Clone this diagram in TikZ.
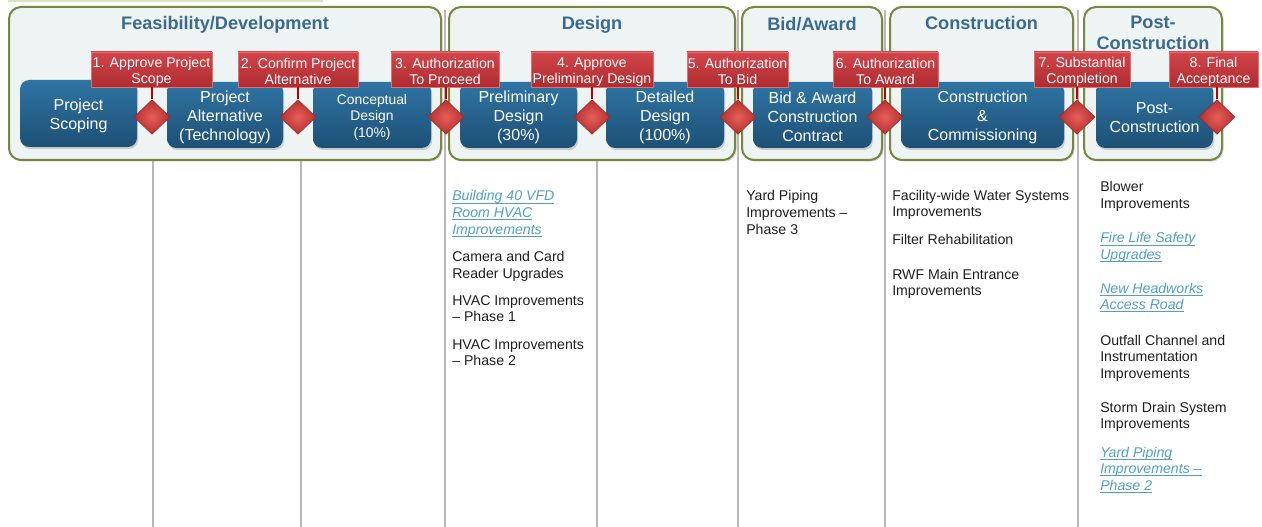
\documentclass[tikz,border=0pt]{standalone}
\usepackage{fontspec}
\setmainfont{Liberation Sans}
\usetikzlibrary{shapes.geometric,shadows}

\definecolor{panelfill}{HTML}{EEF3F4}
\definecolor{paneledge}{HTML}{77873C}
\definecolor{titleblue}{HTML}{3A6B8E}
\definecolor{boxtop}{HTML}{2F74A3}
\definecolor{boxbot}{HTML}{1D5075}
\definecolor{gatetop}{HTML}{D2454A}
\definecolor{gatebot}{HTML}{AE2C30}
\definecolor{gateedge}{HTML}{E07072}
\definecolor{gemin}{HTML}{E65E5A}
\definecolor{gemout}{HTML}{B5302E}
\definecolor{gemedge}{HTML}{9E2624}
\definecolor{stubred}{HTML}{C00000}
\definecolor{rulegray}{HTML}{B8B8B8}
\definecolor{linkblue}{HTML}{4F9FCB}
\definecolor{striptint}{HTML}{D8E4C2}
\definecolor{bodytext}{HTML}{1E1E1E}

% one drawing unit = one pixel
\newcommand{\pxu}{0.75pt}

% underlined hyperlink-style line
\newsavebox{\lkbox}
\newcommand{\lk}[1]{\sbox{\lkbox}{#1}\rlap{\rule[-2pt]{\wd\lkbox}{0.55pt}}\usebox{\lkbox}}

% stacked lines whose baseline is that of the first line
\newcommand{\stack}[1]{\begin{tabular}[t]{@{}l@{}}#1\end{tabular}}
\newcommand{\cstack}[1]{\begin{tabular}[t]{@{}c@{}}#1\end{tabular}}

% extra head room on the first line, lowering centred text a little
\newcommand{\hr}{\raisebox{3pt}{\vphantom{Pl}}}

% node spanning the corners (x1,y1)-(x2,y2)
\newcommand{\pxbox}[6]{%
  \node[#1, minimum width={(#4-#2)*\pxu}, minimum height={(#5-#3)*\pxu}] (#6) at ({(#2+#4)/2},{(#3+#5)/2})}

\tikzset{
  phase/.style={draw=paneledge, line width=1.5pt, fill=panelfill, rounded corners=9pt,
    inner sep=0pt, drop shadow={shadow xshift=1.2pt, shadow yshift=-1.2pt, opacity=.3}},
  ptitle/.style={text=titleblue, font=\fontsize{13.6}{16}\selectfont\bfseries, inner sep=0pt},
  stepbox/.style={rounded corners=7pt, top color=boxtop, bottom color=boxbot, draw=none,
    inner sep=0pt, text=white, align=center, font=\fontsize{12}{14.3}\selectfont,
    drop shadow={shadow xshift=0.8pt, shadow yshift=-1.5pt, opacity=.35}},
  gate/.style={top color=gatetop, bottom color=gatebot, draw=gateedge, line width=0.6pt,
    text=white, align=center, inner sep=0pt, font=\fontsize{10.6}{12}\selectfont},
  gem/.style={diamond, minimum width=27pt, minimum height=26pt, inner sep=0pt,
    inner color=gemin, outer color=gemout, draw=gemedge, line width=0.4pt},
  stub/.style={draw=stubred, line width=2.2pt},
  tablerule/.style={draw=rulegray, line width=0.8pt},
  item/.style={anchor=base west, inner sep=0pt, text=bodytext, font=\fontsize{10.6}{12.4}\selectfont},
  linkitem/.style={item, text=linkblue, font=\fontsize{10.6}{12.4}\selectfont\itshape},
}

\begin{document}
\begin{tikzpicture}[x=0.75pt, y=-0.75pt]
\useasboundingbox (0,0) rectangle (1262,527);

% strip along the top edge
\fill[striptint] (8,0) rectangle (323,2.5);

% table column rules
\foreach \cx in {153,301,445,597,738,885,1078}
  \draw[tablerule] (\cx,10) -- (\cx,527);

% phase panels
\pxbox{phase}{9}{7}{441}{160}{pFeas} {};
\pxbox{phase}{449}{7}{735}{160}{pDesign} {};
\pxbox{phase}{742}{7}{882}{160}{pBid} {};
\pxbox{phase}{890}{7}{1073}{160}{pConst} {};
\pxbox{phase}{1084}{7}{1222}{160}{pPost} {};

% phase titles
\node[ptitle, anchor=base] (tFeas) at (225,30) {Feasibility/Development};
\node[ptitle, anchor=base] (tDesign) at (592,30) {Design};
\node[ptitle, anchor=base] (tBid) at (812,30.5) {Bid/Award};
\node[ptitle, anchor=base] (tConst) at (981.5,30) {Construction};
\node[ptitle, anchor=base] (tPost) at (1153,28.5) {\fontsize{13.6}{16}\selectfont\cstack{Post-\\Construction}};

% process steps
\pxbox{stepbox}{20}{80}{137}{147}{s1} {\hr Project\\Scoping};
\pxbox{stepbox}{167}{82}{283}{148}{s2} {\hr Project\\Alternative\\(Technology)};
\pxbox{stepbox, font=\fontsize{10.4}{12.4}\selectfont}{313}{82}{431}{148}{s3} {\hr Conceptual\\Design\\(10\%)};
\pxbox{stepbox}{460}{82}{577}{148}{s4} {\hr Preliminary\\Design\\(30\%)};
\pxbox{stepbox}{606}{82}{724}{148}{s5} {\hr Detailed\\Design\\(100\%)};
\pxbox{stepbox}{753}{82}{872}{148}{s6} {\hr Bid \& Award\\Construction\\Contract};
\pxbox{stepbox}{901}{82}{1064}{148}{s7} {\hr Construction\\\&\\Commissioning};
\pxbox{stepbox}{1096}{82}{1213}{148}{s8} {\hr Post-\\Construction};

% decision gates
\node[gem] (d1) at (152,117) {};
\node[gem] (d2) at (298,117) {};
\node[gem] (d3) at (446,117) {};
\node[gem] (d4) at (592,117) {};
\node[gem] (d5) at (738,117) {};
\node[gem] (d6) at (885,117) {};
\node[gem] (d7) at (1077,117) {};
\node[gem] (d8) at (1217,117) {};

% gate labels
\pxbox{gate}{91}{52}{212}{87}{g1} {\hr 1. Approve Project\\Scope};
\pxbox{gate}{238}{52}{358}{87}{g2} {\hr 2. Confirm Project\\Alternative};
\pxbox{gate}{391}{52}{499}{87}{g3} {\hr 3. Authorization\\To Proceed};
\pxbox{gate}{531}{52}{653}{87}{g4} {\hr 4. Approve\\Preliminary Design};
\pxbox{gate}{687}{52}{788}{87}{g5} {\hr 5. Authorization\\To Bid};
\pxbox{gate}{833}{52}{938}{87}{g6} {\hr 6. Authorization\\To Award};
\pxbox{gate}{1034}{52}{1130}{87}{g7} {\hr 7. Substantial\\Completion};
\pxbox{gate}{1169}{52}{1258}{87}{g8} {\hr 8. Final\\Acceptance};

% stems from labels down to gates
\foreach \k in {1,...,8}
  \draw[stub] (g\k.south -| d\k.north) -- (d\k.north);

% projects in the Design column
\node[linkitem] (n1) at (452,201) {\stack{\lk{Building 40 VFD}\\\lk{Room HVAC}\\\lk{Improvements}}};
\node[item] (n2) at (452,262) {\stack{Camera and Card\\Reader Upgrades}};
\node[item] (n3) at (452,305) {\stack{HVAC Improvements\\– Phase 1}};
\node[item] (n4) at (452,349) {\stack{HVAC Improvements\\– Phase 2}};

% projects in the Bid/Award column
\node[item] (n5) at (746,201) {\stack{Yard Piping\\Improvements –\\Phase 3}};

% projects in the Construction column
\node[item] (n6) at (892,200) {\stack{Facility-wide Water Systems\\Improvements}};
\node[item] (n7) at (892,244) {\stack{Filter Rehabilitation}};
\node[item] (n8) at (892,279) {\stack{RWF Main Entrance\\Improvements}};

% projects in the Post-Construction column
\node[item] (n9) at (1100,192) {\stack{Blower\\Improvements}};
\node[linkitem] (n10) at (1100,243) {\stack{\lk{Fire Life Safety}\\\lk{Upgrades}}};
\node[linkitem] (n11) at (1100,293) {\stack{\lk{New Headworks}\\\lk{Access Road}}};
\node[item] (n12) at (1100,345) {\stack{Outfall Channel and\\Instrumentation\\Improvements}};
\node[item] (n13) at (1100,412) {\stack{Storm Drain System\\Improvements}};
\node[linkitem] (n14) at (1100,457) {\stack{\lk{Yard Piping}\\\lk{Improvements –}\\\lk{Phase 2}}};

\end{tikzpicture}
\end{document}
